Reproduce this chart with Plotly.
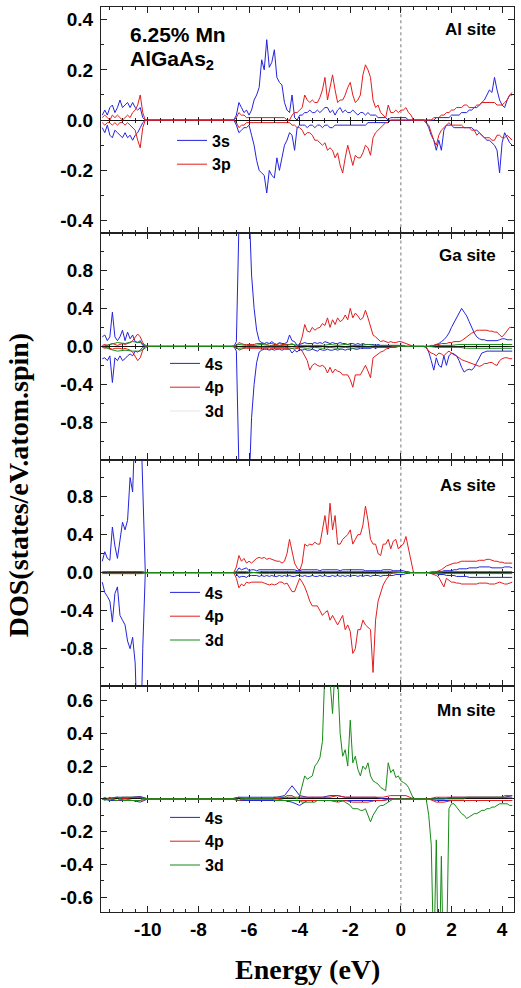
import numpy as np
import plotly.graph_objects as go
from plotly.subplots import make_subplots

# ---------------- energy grids (eV) ----------------
# fine grid: three windows where the DOS is non-zero
energy_fine = np.round(np.concatenate([np.linspace(-11.8, -10.0, 19),
                                       np.linspace(-6.6, 0.6, 73),
                                       np.linspace(0.8, 4.4, 37)]), 2)
# coarse grid for the small (near-zero) partial DOS
energy_coarse = np.round(np.linspace(-11.8, 4.4, 55), 2)

# ---------------- Al site ----------------
al_3s_up = [0.02,0.04,0.02,0.05,0.06,0.03,0.05,0.08,0.05,0.06,
            0.07,0.05,0.07,0.05,0.04,0.05,0.01,0,0,
            0,0.02,0.07,0.05,0.03,0.04,0.02,0.04,0.08,0.1,
            0.13,0.24,0.2,0.32,0.21,0.23,0.28,0.17,0.15,0.14,
            0.07,0.04,0.03,0.1,0.01,0,0.02,0.02,0.03,0.03,
            0.04,0.03,0.03,0.04,0.03,0.04,0.05,0.05,0.03,0.04,
            0.02,0.04,0.05,0.03,0.04,0.03,0.03,0.04,0.03,0.02,
            0.03,0.03,0.02,0.03,0.02,0.02,0.02,0.01,0.01,0.01,
            0.01,0,0.01,0.01,0.01,0.01,0.01,0.01,0.01,0,
            0,0,0,
            0,0,0,0,0,0,0.01,0.01,0.01,0.01,
            0.01,0.01,0.02,0.02,0.02,0.02,0.03,0.03,0.03,0.04,
            0.04,0.05,0.05,0.06,0.07,0.08,0.1,0.12,0.11,0.17,
            0.12,0.08,0.06,0.05,0.08,0.1,0.1]
al_3s_dn = [-0.03,-0.05,-0.02,-0.06,-0.07,-0.04,-0.05,-0.06,-0.07,-0.05,
            -0.07,-0.06,-0.08,-0.06,-0.05,-0.03,-0.01,0,0,
            0,-0.02,-0.05,-0.04,-0.03,-0.03,-0.02,-0.06,-0.1,-0.16,
            -0.2,-0.21,-0.22,-0.29,-0.2,-0.22,-0.23,-0.15,-0.2,-0.15,
            -0.1,-0.08,-0.05,-0.06,-0.12,-0.03,-0.02,-0.02,-0.02,-0.03,
            -0.02,-0.02,-0.03,-0.02,-0.02,-0.03,-0.02,-0.02,-0.03,-0.03,
            -0.02,-0.02,-0.02,-0.02,-0.02,-0.02,-0.02,-0.02,-0.02,-0.02,
            -0.02,-0.02,-0.02,-0.01,-0.01,-0.01,-0.01,-0.01,-0.01,-0.01,
            -0.01,-0.01,0,0,0,0,0,0,0,0,
            0,0,0,
            0,0,-0.01,-0.03,-0.06,-0.08,-0.12,-0.08,-0.12,-0.04,
            -0.02,-0.02,-0.02,-0.03,-0.03,-0.03,-0.03,-0.03,-0.03,-0.03,
            -0.03,-0.04,-0.04,-0.05,-0.06,-0.07,-0.08,-0.08,-0.09,-0.1,
            -0.12,-0.21,-0.09,-0.05,-0.07,-0.09,-0.1]
al_3p_up = [0.01,0.02,0.01,0,0.02,0.01,0.02,0.01,0,0.01,
            0.02,0.01,0.03,0.04,0.06,0.1,0.03,0,0,
            0,0.01,0.03,0.02,0.02,0.01,0.01,0.01,0.01,0.01,
            0.01,0.01,0.01,0.01,0.01,0.01,0.01,0.01,0.01,0.01,
            0.01,0,0,0.02,0.03,0.03,0.04,0.05,0.1,0.08,
            0.07,0.08,0.07,0.07,0.09,0.12,0.17,0.08,0.13,0.18,
            0.12,0.07,0.08,0.08,0.1,0.13,0.15,0.1,0.07,0.08,
            0.1,0.18,0.22,0.2,0.17,0.08,0.05,0.06,0.03,0.02,
            0.01,0.06,0.03,0.03,0.04,0.03,0.04,0.04,0.05,0.03,
            0.02,0,0,
            0,0,0,0,0,0.01,0.01,0.01,0.02,0.02,
            0.03,0.03,0.04,0.04,0.05,0.05,0.05,0.06,0.06,0.05,
            0.05,0.05,0.06,0.06,0.07,0.07,0.07,0.07,0.07,0.07,
            0.06,0.06,0.06,0.07,0.08,0.1,0.11]
al_3p_dn = [-0.01,-0.02,-0.01,-0.01,-0.02,-0.01,-0.02,-0.01,-0.01,-0.02,
            -0.01,-0.02,-0.03,-0.04,-0.08,-0.11,-0.03,0,0,
            0,-0.01,-0.03,-0.02,-0.02,-0.01,-0.01,-0.01,-0.01,-0.01,
            -0.01,-0.01,-0.01,-0.01,-0.01,-0.01,-0.01,-0.01,-0.01,-0.01,
            -0.01,-0.01,-0.01,-0.02,-0.02,-0.03,-0.03,-0.04,-0.06,-0.05,
            -0.05,-0.06,-0.08,-0.08,-0.09,-0.1,-0.09,-0.12,-0.11,-0.12,
            -0.15,-0.13,-0.18,-0.21,-0.15,-0.1,-0.14,-0.18,-0.14,-0.15,
            -0.15,-0.13,-0.1,-0.11,-0.14,-0.07,-0.05,-0.04,-0.03,-0.02,
            -0.01,-0.01,0,0,0,0,0,0,0,0,
            0,0,0,
            0,0,-0.01,-0.02,-0.05,-0.08,-0.1,-0.06,-0.04,-0.03,
            -0.02,-0.01,-0.02,-0.02,-0.02,-0.02,-0.02,-0.03,-0.03,-0.03,
            -0.04,-0.04,-0.06,-0.05,-0.06,-0.07,-0.07,-0.07,-0.08,-0.08,
            -0.06,-0.06,-0.07,-0.07,-0.06,-0.07,-0.08]

# ---------------- Ga site ----------------
ga_4s_up = [0.1,0.12,0.06,0.1,0.36,0.1,0.06,0.1,0.17,0.06,
            0.15,0.08,0.12,0.05,0.04,0.06,0.01,0,0,
            0,0.05,0.9,2.5,1.8,2.5,1.5,0.75,0.4,0.17,
            0.06,0.04,0.03,0.04,0.03,0.05,0.03,0.02,0.04,0.03,
            0.03,0.04,0.12,0.06,0.05,0.01,0.02,0.03,0.04,0.03,
            0.03,0.03,0.04,0.03,0.04,0.03,0.05,0.04,0.03,0.04,
            0.03,0.03,0.04,0.03,0.03,0.02,0.03,0.03,0.02,0.03,
            0.02,0.03,0.02,0.02,0.02,0.02,0.01,0.02,0.01,0.01,
            0.01,0.01,0.01,0.01,0.01,0.01,0.01,0.01,0,0,
            0,0,0,
            0,0,0,0,0,0.01,0.02,0.03,0.05,0.07,
            0.1,0.14,0.2,0.25,0.3,0.35,0.4,0.36,0.32,0.26,
            0.2,0.14,0.1,0.08,0.07,0.07,0.06,0.06,0.06,0.06,
            0.06,0.07,0.08,0.08,0.07,0.07,0.07]
ga_4s_dn = [-0.13,-0.12,-0.15,-0.1,-0.38,-0.12,-0.15,-0.1,-0.15,-0.13,
            -0.1,-0.08,-0.1,-0.05,-0.06,-0.04,-0.01,0,0,
            0,-0.05,-0.9,-2.5,-1.8,-2.5,-1.5,-0.75,-0.4,-0.17,
            -0.06,-0.04,-0.03,-0.03,-0.04,-0.03,-0.04,-0.03,-0.03,-0.04,
            -0.03,-0.03,-0.03,-0.07,-0.04,-0.06,-0.03,-0.04,-0.03,-0.04,
            -0.04,-0.03,-0.04,-0.05,-0.03,-0.04,-0.04,-0.03,-0.04,-0.04,
            -0.03,-0.04,-0.03,-0.03,-0.04,-0.03,-0.03,-0.02,-0.03,-0.03,
            -0.02,-0.02,-0.02,-0.02,-0.02,-0.01,-0.02,-0.01,-0.01,-0.01,
            -0.01,-0.01,-0.01,-0.01,-0.01,0,0,0,0,0,
            0,0,0,
            0,0,-0.01,-0.06,-0.15,-0.25,-0.12,-0.2,-0.22,-0.1,
            -0.2,-0.1,-0.07,-0.08,-0.1,-0.15,-0.22,-0.27,-0.25,-0.24,
            -0.25,-0.22,-0.17,-0.12,-0.07,-0.06,-0.05,-0.05,-0.05,-0.05,
            -0.05,-0.05,-0.05,-0.05,-0.05,-0.05,-0.05]
ga_4p_up = [0.01,0.02,0.01,0.02,0.03,0.02,0.01,0.02,0.03,0.02,
            0.03,0.04,0.06,0.1,0.13,0.1,0.04,0,0,
            0,0.01,0.04,0.03,0.02,0.02,0.02,0.02,0.02,0.03,
            0.03,0.03,0.03,0.02,0.03,0.03,0.02,0.02,0.03,0.02,
            0.02,0.02,0.02,0.03,0.01,0,0.02,0.1,0.23,0.16,
            0.15,0.2,0.17,0.19,0.2,0.24,0.22,0.3,0.2,0.28,
            0.23,0.3,0.26,0.28,0.33,0.28,0.4,0.3,0.35,0.32,
            0.28,0.3,0.38,0.3,0.2,0.12,0.1,0.07,0.05,0.06,
            0.05,0.04,0.05,0.04,0.04,0.05,0.05,0.04,0.03,0.02,
            0.01,0,0,
            0,0,0,0,0.01,0.01,0.02,0.02,0.03,0.03,
            0.03,0.04,0.04,0.05,0.05,0.05,0.06,0.08,0.1,0.12,
            0.14,0.15,0.17,0.17,0.17,0.17,0.17,0.16,0.16,0.15,
            0.15,0.12,0.1,0.13,0.16,0.2,0.2]
ga_4p_dn = [-0.01,-0.02,-0.01,-0.02,-0.03,-0.02,-0.02,-0.02,-0.03,-0.02,
            -0.03,-0.04,-0.06,-0.1,-0.15,-0.12,-0.04,0,0,
            0,-0.01,-0.04,-0.03,-0.02,-0.02,-0.02,-0.02,-0.02,-0.02,
            -0.02,-0.03,-0.02,-0.02,-0.03,-0.02,-0.02,-0.02,-0.02,-0.02,
            -0.02,-0.02,-0.03,-0.02,-0.03,-0.02,-0.03,-0.05,-0.1,-0.15,
            -0.25,-0.2,-0.18,-0.2,-0.21,-0.2,-0.22,-0.28,-0.22,-0.28,
            -0.24,-0.26,-0.27,-0.3,-0.3,-0.3,-0.35,-0.43,-0.3,-0.3,
            -0.3,-0.25,-0.2,-0.26,-0.33,-0.12,-0.1,-0.08,-0.06,-0.05,
            -0.03,-0.02,-0.01,0,0,0,0,0,0,0,
            0,0,0,
            0,0,-0.01,-0.05,-0.07,-0.08,-0.1,-0.07,-0.08,-0.1,
            -0.07,-0.05,-0.07,-0.09,-0.1,-0.12,-0.14,-0.15,-0.16,-0.17,
            -0.18,-0.19,-0.2,-0.21,-0.2,-0.18,-0.18,-0.17,-0.17,-0.19,
            -0.2,-0.15,-0.13,-0.12,-0.12,-0.13,-0.13]
ga_3d_up = [0,0.02,0.04,0.03,0.05,0.04,0,
            0,0,0,0,0,0,0,0,0,0,
            0,0.02,0.01,0.01,0.02,0.01,0.01,0.01,0.02,0.01,0.01,0.01,0.01,0.02,0.01,0.02,0.01,0.01,0.02,0.01,0.01,0.01,0.01,
            0,0,0,0,0.01,0.01,0.01,0.02,0.02,0.02,0.02,0.02,0.02,0.02,0.02]
ga_3d_dn = [0,-0.03,-0.05,-0.04,-0.05,-0.05,0,
            0,0,0,0,0,0,0,0,0,0,
            0,-0.02,-0.01,-0.01,-0.01,-0.01,-0.01,-0.01,-0.02,-0.01,-0.02,-0.01,-0.02,-0.01,-0.02,-0.01,-0.02,-0.01,-0.01,-0.01,-0.01,-0.01,0,
            0,0,0,0,-0.01,-0.01,-0.01,-0.01,-0.02,-0.02,-0.02,-0.02,-0.02,-0.02,-0.02]

# ---------------- As site ----------------
as_4s_up = [0.12,0.22,0.15,0.13,0.48,0.28,0.15,0.36,0.53,0.45,
            0.55,1.0,0.85,1.6,2.2,1.8,0.75,0,0,
            0,0.01,0.05,0.03,0.04,0.05,0.02,0.03,0.03,0.02,
            0.03,0.03,0.03,0.03,0.03,0.03,0.03,0.03,0.03,0.03,
            0.03,0.03,0.03,0.03,0.03,0.02,0.02,0.03,0.03,0.03,
            0.03,0.03,0.03,0.03,0.02,0.03,0.03,0.03,0.03,0.03,
            0.03,0.03,0.02,0.03,0.03,0.03,0.03,0.03,0.03,0.03,
            0.03,0.03,0.02,0.02,0.02,0.02,0.02,0.02,0.02,0.03,
            0.03,0.03,0.03,0.02,0.02,0.02,0.02,0.02,0.01,0.01,
            0,0,0,
            0,0,0,0,0,0,0.01,0.01,0.01,0.02,
            0.02,0.02,0.02,0.03,0.03,0.04,0.04,0.04,0.04,0.05,
            0.05,0.05,0.05,0.06,0.06,0.06,0.06,0.06,0.05,0.05,
            0.05,0.05,0.05,0.06,0.06,0.06,0.05]
as_4s_dn = [-0.1,-0.21,-0.25,-0.3,-0.52,-0.22,-0.15,-0.45,-0.5,-0.55,
            -0.72,-0.8,-0.68,-0.95,-1.8,-2.0,-0.8,0,0,
            0,-0.01,-0.05,-0.04,-0.04,-0.05,-0.03,-0.03,-0.03,-0.03,
            -0.04,-0.03,-0.04,-0.03,-0.04,-0.03,-0.04,-0.04,-0.03,-0.04,
            -0.03,-0.04,-0.03,-0.04,-0.04,-0.03,-0.03,-0.04,-0.03,-0.04,
            -0.04,-0.03,-0.04,-0.04,-0.03,-0.04,-0.03,-0.04,-0.04,-0.03,
            -0.04,-0.03,-0.04,-0.03,-0.04,-0.03,-0.04,-0.03,-0.03,-0.04,
            -0.03,-0.04,-0.03,-0.03,-0.04,-0.03,-0.03,-0.03,-0.04,-0.03,
            -0.03,-0.03,-0.03,-0.03,-0.02,-0.02,-0.02,-0.02,-0.01,-0.01,
            0,0,0,
            0,0,0,0,-0.01,-0.01,-0.01,-0.02,-0.02,-0.02,
            -0.03,-0.03,-0.03,-0.03,-0.04,-0.04,-0.04,-0.04,-0.04,-0.05,
            -0.05,-0.05,-0.05,-0.05,-0.05,-0.05,-0.05,-0.05,-0.05,-0.05,
            -0.05,-0.05,-0.05,-0.05,-0.05,-0.05,-0.05]
as_4p_up = [0.01,0.01,0.01,0.01,0.01,0.01,0.01,0.01,0.01,0.01,
            0.01,0.01,0.01,0.01,0.01,0.01,0.01,0,0,
            0,0.06,0.18,0.12,0.15,0.1,0.12,0.1,0.13,0.15,
            0.16,0.15,0.16,0.14,0.15,0.14,0.13,0.12,0.12,0.1,
            0.12,0.2,0.35,0.22,0.1,0.05,0.02,0.1,0.3,0.28,
            0.3,0.29,0.32,0.3,0.3,0.45,0.6,0.4,0.73,0.45,
            0.6,0.3,0.3,0.35,0.38,0.4,0.45,0.3,0.35,0.4,
            0.4,0.5,0.7,0.55,0.35,0.3,0.3,0.2,0.18,0.3,
            0.3,0.35,0.25,0.33,0.35,0.25,0.28,0.3,0.38,0.25,
            0.1,0,0,
            0,0,0,0,0.01,0.01,0.01,0.02,0.03,0.05,
            0.07,0.08,0.09,0.1,0.1,0.11,0.12,0.12,0.12,0.12,
            0.12,0.12,0.12,0.13,0.13,0.13,0.14,0.14,0.13,0.12,
            0.12,0.11,0.11,0.1,0.1,0.1,0.1]
as_4p_dn = [-0.01,-0.01,-0.01,-0.01,-0.01,-0.01,-0.01,-0.01,-0.01,-0.01,
            -0.01,-0.01,-0.01,-0.01,-0.01,-0.01,-0.01,0,0,
            0,-0.06,-0.16,-0.12,-0.14,-0.1,-0.11,-0.1,-0.1,-0.1,
            -0.1,-0.1,-0.11,-0.12,-0.13,-0.12,-0.13,-0.12,-0.1,-0.1,
            -0.12,-0.11,-0.15,-0.2,-0.2,-0.12,-0.06,-0.1,-0.15,-0.22,
            -0.3,-0.35,-0.35,-0.35,-0.4,-0.45,-0.42,-0.4,-0.5,-0.45,
            -0.5,-0.55,-0.5,-0.45,-0.6,-0.55,-0.62,-0.85,-0.8,-0.6,
            -0.6,-0.5,-0.55,-0.58,-0.6,-1.05,-0.5,-0.3,-0.2,-0.13,
            -0.08,-0.05,-0.01,0,0,0,0,0,0,0,
            0,0,0,
            0,0,0,0,-0.01,-0.02,-0.03,-0.05,-0.1,-0.15,
            -0.06,-0.08,-0.1,-0.1,-0.11,-0.11,-0.12,-0.12,-0.12,-0.12,
            -0.12,-0.12,-0.12,-0.11,-0.11,-0.11,-0.11,-0.12,-0.12,-0.12,
            -0.11,-0.1,-0.11,-0.12,-0.12,-0.11,-0.1]
as_3d_up = [0,0.01,0.01,0.01,0.01,0.01,0,
            0,0,0,0,0,0,0,0,0,0,
            0,0.01,0.01,0,0.01,0.01,0.01,0.01,0.01,0.01,0.01,0.01,0.01,0.01,0.01,0.01,0.01,0.01,0.01,0.01,0.01,0.01,0.01,
            0,0,0,0,0,0.01,0.01,0.01,0.01,0.01,0.01,0.01,0.01,0.01,0.01]
as_3d_dn = [0,-0.01,-0.01,-0.01,-0.01,-0.01,0,
            0,0,0,0,0,0,0,0,0,0,
            0,-0.01,-0.01,0,-0.01,-0.01,-0.01,-0.01,-0.01,-0.01,-0.01,-0.01,-0.01,-0.01,-0.01,-0.01,-0.01,-0.01,-0.01,-0.01,-0.01,-0.01,0,
            0,0,0,0,-0.01,-0.01,-0.01,-0.01,-0.01,-0.01,-0.01,-0.01,-0.01,-0.01,-0.01]

# ---------------- Mn site ----------------
mn_3d_up = [0,0.01,0,0.01,0,0.01,0.01,0,0.01,0.01,
            0.01,0.01,0.01,0.01,0.01,0.01,0,0,0,
            0,0.005,0.01,0,0,0,0,0,0,0,
            0,0,0,0,0,0,0.01,0.01,0.01,0.01,
            0.01,0.02,0.02,0.02,0.01,0,0.02,0.08,0.14,0.12,
            0.13,0.14,0.2,0.22,0.25,0.35,0.8,0.75,0.72,0.52,
            0.8,0.75,0.4,0.26,0.3,0.2,0.48,0.22,0.26,0.18,
            0.14,0.2,0.18,0.22,0.14,0.11,0.1,0.09,0.07,0.06,
            0.05,0.22,0.16,0.18,0.13,0.14,0.11,0.1,0.09,0.07,
            0.04,0,0,
            0,0,0,0,0,0,0,0,0,0,
            0,0,0,0,0,0,0,0,0.01,0.01,
            0.01,0.01,0.01,0.01,0.01,0.01,0.01,0.01,0.01,0.01,
            0.01,0.01,0.01,0.02,0.02,0.02,0.02]
mn_3d_dn = [0,-0.01,0,-0.01,0,-0.01,-0.01,0,-0.01,-0.01,
            -0.01,-0.01,-0.01,-0.01,-0.01,-0.01,0,0,0,
            0,-0.005,-0.01,0,0,0,0,0,0,0,
            0,0,0,0,0,0,-0.01,-0.01,-0.01,-0.01,
            -0.01,-0.01,-0.01,-0.01,-0.01,-0.01,-0.01,-0.02,-0.02,-0.02,
            -0.02,-0.02,-0.02,-0.01,-0.01,-0.01,-0.01,-0.01,-0.01,-0.01,
            -0.01,-0.01,-0.01,-0.01,-0.02,-0.03,-0.04,-0.06,-0.06,-0.06,
            -0.07,-0.07,-0.06,-0.1,-0.14,-0.1,-0.07,-0.05,-0.04,-0.04,
            -0.03,-0.02,-0.01,0,0,0,0,0,0,0,
            0,0,0,
            0,0,0,-0.1,-0.28,-1.0,-0.25,-1.2,-0.35,-1.2,
            -1.0,-0.06,-0.03,-0.03,-0.05,-0.07,-0.09,-0.1,-0.12,-0.11,
            -0.1,-0.09,-0.09,-0.08,-0.07,-0.07,-0.06,-0.06,-0.05,-0.05,
            -0.04,-0.03,-0.03,-0.03,-0.03,-0.04,-0.04]
mn_4s_up = [0,0.005,0.01,0.01,0.01,0.015,0,
            0,0,0,0,0,0,0,0,0,0,
            0,0.01,0.01,0.01,0.01,0.01,0.01,0.02,0.08,0.02,0.01,0.01,0.01,0.02,0.02,0.01,0.01,0.01,0.01,0.01,0,0,0,
            0,0,0,0,0,0,0.01,0.01,0.01,0.01,0.01,0.01,0.01,0.01,0.02]
mn_4s_dn = [0,-0.01,-0.01,-0.01,-0.01,-0.02,0,
            0,0,0,0,0,0,0,0,0,0,
            0,-0.01,-0.01,-0.01,-0.01,-0.01,-0.01,-0.01,-0.02,-0.04,-0.01,-0.01,-0.01,-0.01,-0.01,-0.01,-0.01,-0.01,-0.01,-0.01,-0.01,0,0,
            0,0,0,0,-0.01,-0.01,-0.01,-0.01,-0.01,-0.01,-0.01,-0.01,-0.01,-0.01,-0.01]
mn_4p_up = [0,0,0.01,0,0.01,0.01,0,
            0,0,0,0,0,0,0,0,0,0,
            0,0.01,0,0,0,0,0,0.01,0.01,0.01,0.01,0.01,0.01,0.01,0.02,0.01,0.01,0.01,0.01,0.01,0.01,0.02,0.02,
            0.02,0,0,0,0.01,0.01,0.01,0.01,0.01,0.01,0.01,0.01,0.01,0.01,0.01]
mn_4p_dn = [0,0,-0.01,0,-0.01,-0.01,0,
            0,0,0,0,0,0,0,0,0,0,
            0,-0.01,0,0,0,0,0,-0.01,-0.01,-0.01,-0.01,-0.01,-0.01,-0.01,-0.02,-0.01,-0.02,-0.02,-0.02,-0.01,-0.01,0,0,
            0,0,0,0,-0.02,-0.02,-0.01,-0.01,-0.01,-0.01,-0.01,-0.01,-0.01,-0.01,-0.01]

# ---------------- labels ----------------
site_names = ["Al site", "Ga site", "As site", "Mn site"]
x_tick_vals = [-10, -8, -6, -4, -2, 0, 2, 4]
x_tick_text = ["-10", "-8", "-6", "-4", "-2", "0", "2", "4"]
y_tick_vals = [[-0.4, -0.2, 0, 0.2, 0.4], [-0.8, -0.4, 0, 0.4, 0.8],
               [-0.8, -0.4, 0, 0.4, 0.8], [-0.6, -0.4, -0.2, 0, 0.2, 0.4, 0.6]]
y_tick_text = [["-0.4", "-0.2", "0.0", "0.2", "0.4"], ["-0.8", "-0.4", "0.0", "0.4", "0.8"],
               ["-0.8", "-0.4", "0.0", "0.4", "0.8"], ["-0.6", "-0.4", "-0.2", "0.0", "0.2", "0.4", "0.6"]]

BLUE, RED, GREEN = "#2424dc", "#e21c1c", "#178a17"
X_RANGE = [-11.85, 4.47]
Y_HALF = [0.45, 1.19, 1.19, 0.69]
Y_MINOR = [0.1, 0.2, 0.2, 0.1]

F, C = energy_fine, energy_coarse
panels = [
    [("3s", BLUE, al_3s_up, al_3s_dn, F), ("3p", RED, al_3p_up, al_3p_dn, F)],
    [("4s", BLUE, ga_4s_up, ga_4s_dn, F), ("4p", RED, ga_4p_up, ga_4p_dn, F),
     ("3d", GREEN, ga_3d_up, ga_3d_dn, C)],
    [("4s", BLUE, as_4s_up, as_4s_dn, F), ("4p", RED, as_4p_up, as_4p_dn, F),
     ("3d", GREEN, as_3d_up, as_3d_dn, C)],
    [("4s", BLUE, mn_4s_up, mn_4s_dn, C), ("4p", RED, mn_4p_up, mn_4p_dn, C),
     ("3d", GREEN, mn_3d_up, mn_3d_dn, F)],
]
legend_names = ["legend", "legend2", "legend3", "legend4"]

for p in panels:
    for name, col, up, dn, e in p:
        if len(up) != len(e) or len(dn) != len(e):
            raise ValueError(f"{name}: {len(up)} {len(dn)} vs {len(e)}")

fig = make_subplots(rows=4, cols=1, shared_xaxes=True, vertical_spacing=0)

for i, p in enumerate(panels):
    row = i + 1
    for name, col, up, dn, e in p:
        # Ga-site 3d shows a pale swatch in the original legend
        pale = (i == 1 and name == "3d")
        fig.add_trace(go.Scatter(x=e, y=up, mode="lines", name=name,
                                 line=dict(color=col, width=1),
                                 legend=legend_names[i], showlegend=not pale),
                      row=row, col=1)
        fig.add_trace(go.Scatter(x=e, y=dn, mode="lines", name=name,
                                 line=dict(color=col, width=1),
                                 legend=legend_names[i], showlegend=False),
                      row=row, col=1)
        if pale:
            fig.add_trace(go.Scatter(x=[None], y=[None], mode="lines", name=name,
                                     line=dict(color="#e6e6e6", width=1),
                                     legend=legend_names[i]), row=row, col=1)

TICKFONT = dict(family="Liberation Sans", size=19, color="black", weight="bold")

for i in range(4):
    row = i + 1
    fig.update_xaxes(row=row, col=1, range=X_RANGE, tickmode="array",
                     tickvals=x_tick_vals, ticktext=x_tick_text,
                     ticks="inside", ticklen=6, tickwidth=1, tickcolor="#222",
                     minor=dict(ticks="inside", ticklen=3, tick0=0, dtick=0.5, tickcolor="#222"),
                     showline=True, linecolor="#222", linewidth=1.3, mirror="ticks",
                     showgrid=False, zeroline=False, tickfont=TICKFONT,
                     ticklabelstandoff=0)
    fig.update_yaxes(row=row, col=1, range=[-Y_HALF[i], Y_HALF[i]], tickmode="array",
                     tickvals=y_tick_vals[i], ticktext=y_tick_text[i],
                     ticks="inside", ticklen=6, tickwidth=1, tickcolor="#222",
                     minor=dict(ticks="inside", ticklen=3, tick0=0, dtick=Y_MINOR[i], tickcolor="#222"),
                     showline=True, linecolor="#222", linewidth=1.3, mirror="ticks",
                     showgrid=False, zeroline=True, zerolinecolor="#111", zerolinewidth=1,
                     tickfont=TICKFONT, ticklabelstandoff=3)
    # Fermi level
    fig.add_vline(x=0, row=row, col=1, line=dict(color="#777", width=1, dash="dot"), layer="below")

# tick marks crossing the zero line of each panel
zero_pos = [0.875, 0.625, 0.375, 0.125]
k = 5
for yc in zero_pos:
    for mode in ("inside", "outside"):
        fig.update_layout(**{f"xaxis{k}": dict(
            overlaying="x", anchor="free", position=yc, range=X_RANGE,
            tickmode="array", tickvals=x_tick_vals, showticklabels=False,
            ticks=mode, ticklen=3.5, tickcolor="#222",
            minor=dict(ticks=mode, ticklen=2, tick0=0, dtick=0.5, tickcolor="#222"),
            showline=False, showgrid=False, zeroline=False, fixedrange=True)})
        fig.add_trace(go.Scatter(x=[None], y=[None], xaxis=f"x{k}", yaxis="y",
                                 showlegend=False, hoverinfo="skip"))
        k += 1

# per-panel legends: (left of entry text in px, centre row of the entry block in px)
PLOT_L, PLOT_R, PLOT_T, PLOT_B = 101, 514, 7, 912
LEGFONT = dict(family="Liberation Sans", size=16, color="black", weight="bold")
leg_px = [(212, 152.5), (205, 387.5), (205, 616.5), (205, 841.5)]
for name, (tx, cy) in zip(legend_names, leg_px):
    fig.update_layout(**{name: dict(x=(tx - 40 - PLOT_L) / (PLOT_R - PLOT_L),
                                    y=(PLOT_B - cy) / (PLOT_B - PLOT_T),
                                    xanchor="left", yanchor="middle",
                                    bgcolor="rgba(0,0,0,0)", borderwidth=0,
                                    font=LEGFONT, tracegroupgap=0)})

ANNFONT = dict(family="Liberation Sans", color="black", weight="bold")
site_y = [0.9746, 0.7254, 0.4718, 0.2232]
for nm, yy in zip(site_names, site_y):
    fig.add_annotation(text=nm, xref="paper", yref="paper", x=0.9613, y=yy,
                       xanchor="right", yanchor="middle", showarrow=False,
                       font=dict(size=17, **ANNFONT))
fig.add_annotation(text="6.25% Mn", xref="paper", yref="paper", x=0.0654, y=0.9696,
                   xanchor="left", yanchor="middle", showarrow=False, font=dict(size=21, **ANNFONT))
fig.add_annotation(text="AlGaAs<sub>2</sub>", xref="paper", yref="paper", x=0.0654, y=0.941,
                   xanchor="left", yanchor="middle", showarrow=False, font=dict(size=21, **ANNFONT))

TITLEFONT = dict(family="Liberation Serif", size=28, color="black", weight="bold")
fig.add_annotation(text="DOS(states/eV.atom.spin)", xref="paper", yref="paper",
                   x=-0.2, y=0.472, textangle=-90, showarrow=False,
                   xanchor="center", yanchor="middle", font=TITLEFONT)
fig.add_annotation(text="Energy (eV)", xref="paper", yref="paper",
                   x=0.4988, y=-0.063, showarrow=False,
                   xanchor="center", yanchor="middle", font=TITLEFONT)

fig.update_layout(width=521, height=988, margin=dict(l=101, r=7, t=7, b=76),
                  plot_bgcolor="white", paper_bgcolor="white", hovermode=False)

fig.write_html("out.html")
